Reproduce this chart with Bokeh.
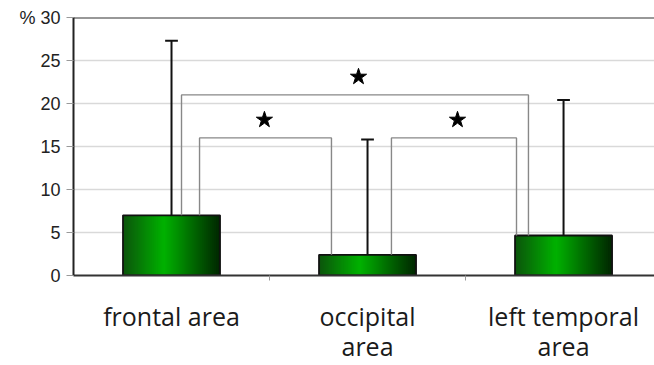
from bokeh.plotting import figure
from bokeh.models import Range1d, FixedTicker, Span, LinearAxis
from bokeh.embed import file_html
from bokeh.resources import INLINE

# ---- data ----
categories = ["frontal area", "occipital\narea", "left temporal\narea"]
x_pos = [0.5, 1.5, 2.5]
values = [7.0, 2.4, 4.65]
upper_err = [27.3, 15.8, 20.4]
y_ticks = [0, 5, 10, 15, 20, 25, 30]
y_tick_labels = {30: "% 30"}

# significance brackets: (left leg x, left base, right leg x, right base, top)
br_x0 = [0.643, 1.622, 0.551]
br_b0 = [7.0, 2.4, 7.0]
br_x1 = [1.316, 2.26, 2.321]
br_b1 = [2.4, 4.65, 4.65]
br_top = [16.0, 16.0, 21.0]
star_x = [0.974, 1.959, 1.454]
star_y = [18.1, 18.1, 23.1]

BAR_W = 0.495
CAP_W = 0.065

p = figure(width=654, height=365, output_backend="svg", toolbar_location=None,
           x_range=Range1d(0, 2.964), y_range=Range1d(0, 30),
           min_border_left=73, min_border_right=0, min_border_top=17, min_border_bottom=90)
p.outline_line_color = None
p.background_fill_color = "white"
p.border_fill_color = "white"

# axes
p.yaxis.ticker = FixedTicker(ticks=y_ticks)
p.yaxis.major_label_overrides = {k: v for k, v in y_tick_labels.items()}
p.yaxis.major_label_text_font = "Liberation Sans"
p.yaxis.major_label_text_font_size = "18px"
p.yaxis.major_label_text_color = "#222222"
p.yaxis.axis_line_color = "#222222"
p.yaxis.axis_line_width = 2
p.yaxis.major_tick_line_color = "#999999"
p.yaxis.major_tick_out = 7
p.yaxis.major_tick_in = 0
p.yaxis.minor_tick_line_color = None
p.yaxis.major_label_standoff = 6

p.xaxis.ticker = FixedTicker(ticks=[1, 2])
p.xaxis.major_label_overrides = {1: "", 2: ""}
p.xaxis.major_label_text_font_size = "1px"
p.xaxis.major_label_standoff = 0
p.xaxis.axis_line_color = "#333333"
p.xaxis.axis_line_width = 2
p.xaxis.major_tick_line_color = "#999999"
p.xaxis.major_tick_out = 5
p.xaxis.major_tick_in = 0
p.xaxis.minor_tick_line_color = None

# category label axes (one per text line)
lines = [c.split("\n") for c in categories]
n_lines = max(len(l) for l in lines)
standoffs = [12, -13]
for j in range(n_lines):
    ax = LinearAxis(ticker=FixedTicker(ticks=x_pos),
                    major_label_overrides={x: (l[j] if j < len(l) else " ") for x, l in zip(x_pos, lines)},
                    axis_line_color=None, major_tick_line_color=None, minor_tick_line_color=None,
                    major_label_text_font="Open Sans", major_label_text_font_size="25px",
                    major_label_text_color="#1a1a1a", major_label_standoff=standoffs[j])
    p.add_layout(ax, "below")

p.xgrid.grid_line_color = None
p.ygrid.ticker = FixedTicker(ticks=y_ticks[1:-1])
p.ygrid.grid_line_color = "#d9d9d9"
p.ygrid.grid_line_width = 1.5

p.add_layout(Span(location=30, dimension="width", line_color="#333333", line_width=2))

# gradient bars (slices)
N = 48
def grad_color(t):
    if t < 0.42:
        f = t / 0.42
        r = int(12 * (1 - f)); g = int(85 + (178 - 85) * f); b = int(12 * (1 - f))
    else:
        f = (t - 0.42) / 0.58
        r = 0; g = int(178 + (38 - 178) * f); b = 0
    return "#%02x%02x%02x" % (r, g, b)

left, right, top, colors = [], [], [], []
step = BAR_W / N
for xc, v in zip(x_pos, values):
    for i in range(N):
        l = xc - BAR_W / 2 + step * i
        r = min(l + step * 2.0, xc + BAR_W / 2)
        left.append(l); right.append(r); top.append(v)
        colors.append(grad_color((i + 0.5) / N))
p.quad(left=left, right=right, bottom=0, top=top, fill_color=colors, line_color=None)
p.vbar(x=x_pos, width=BAR_W, top=values, bottom=0, fill_color=None,
       line_color="#111111", line_width=1.8)

# error bars
p.segment(x0=x_pos, y0=values, x1=x_pos, y1=upper_err, line_color="#111111", line_width=2)
p.segment(x0=[x - CAP_W / 2 for x in x_pos], y0=upper_err,
          x1=[x + CAP_W / 2 for x in x_pos], y1=upper_err, line_color="#111111", line_width=2)

# brackets
xs = [[a, a, b, b] for a, b in zip(br_x0, br_x1)]
ys = [[b0, t, t, b1] for b0, b1, t in zip(br_b0, br_b1, br_top)]
p.multi_line(xs=xs, ys=ys, line_color="#888888", line_width=1.4)

p.scatter(x=star_x, y=star_y, marker="star", size=17, fill_color="black", line_color="black")

open("out.html", "w").write(file_html(p, INLINE))
